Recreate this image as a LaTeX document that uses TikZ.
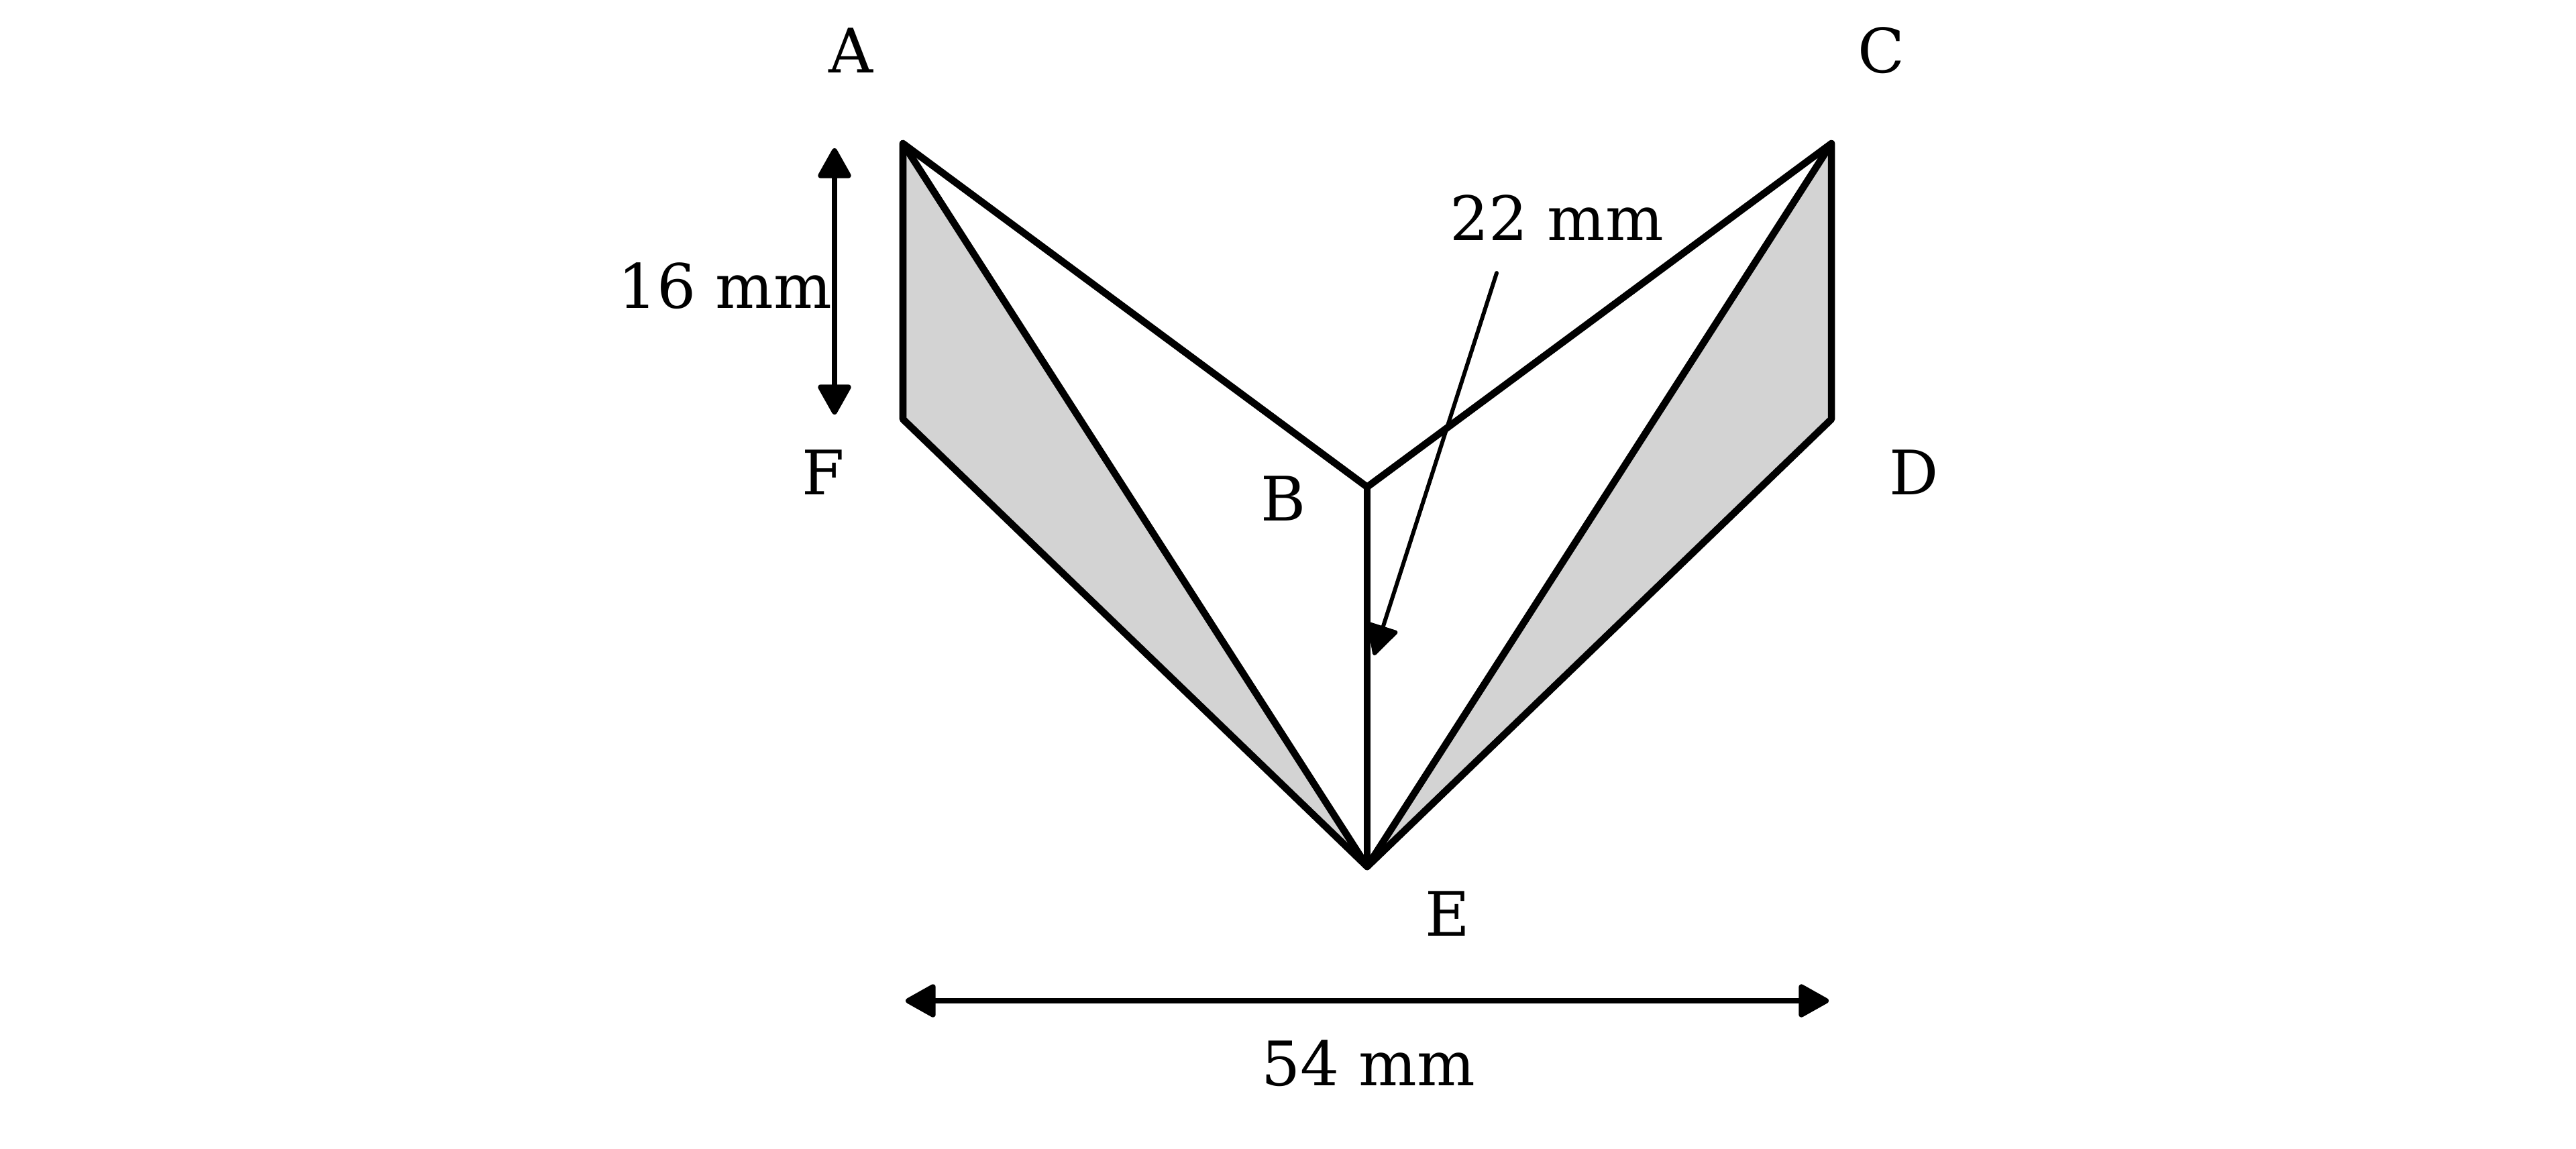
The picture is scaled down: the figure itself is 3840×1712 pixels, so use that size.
\documentclass[tikz,border=0pt]{standalone}
\usepackage{fontspec}
\setmainfont{DejaVu Serif}
\usetikzlibrary{arrows.meta}
\definecolor{gfill}{RGB}{211,211,211}
\begin{document}
\begin{tikzpicture}[x=0.01cm,y=-0.01cm,
  edge/.style={line width=3pt, line join=round, line cap=round},
  tipd/.tip={Triangle[width=15pt,length=14pt,round]},
  dimline/.style={line width=2.3pt, tipd-tipd},
  leader/.style={line width=1.7pt, line cap=round, -{Triangle[width=14pt,length=14pt,round]}},
  lbl/.style={font=\fontsize{26}{30}\selectfont, anchor=base, inner sep=0pt}]
\useasboundingbox (0,0) rectangle (3840,1712);
% vertices
\coordinate (A) at (1346,214);
\coordinate (C) at (2730,214);
\coordinate (F) at (1346,625);
\coordinate (D) at (2730,625);
\coordinate (B) at (2038,726);
\coordinate (E) at (2038,1292);
% shaded triangles
\fill[gfill] (A) -- (F) -- (E) -- cycle;
\fill[gfill] (C) -- (D) -- (E) -- cycle;
% outline and inner lines
\draw[edge] (A) -- (F) -- (E) -- (D) -- (C) -- (B) -- cycle;
\draw[edge] (A) -- (E);
\draw[edge] (C) -- (E);
\draw[edge] (B) -- (E);
% vertex labels
\node[lbl] (lA) at (1268,108) {A};
\node[lbl] (lC) at (2804,108) {C};
\node[lbl] (lF) at (1227,737) {F};
\node[lbl] (lD) at (2853,737) {D};
\node[lbl] (lB) at (1913,776) {B};
\node[lbl] (lE) at (2158,1395) {E};
% dimensions
\coordinate (h1) at (1244,221);
\coordinate (h2) at (1244,618);
\draw[dimline] (h1) -- (h2);
\node[lbl] (l16) at (1081,459) {16 mm};
\coordinate (w1) at (1350,1492);
\coordinate (w2) at (2726,1492);
\draw[dimline] (w1) -- (w2);
\node[lbl] (l54) at (2040,1618) {54 mm};
\coordinate (s1) at (2231,407);
\coordinate (s2) at (2048,977);
\draw[leader] (s1) -- (s2);
\node[lbl] (l22) at (2321,358) {22 mm};
\end{tikzpicture}
\end{document}
